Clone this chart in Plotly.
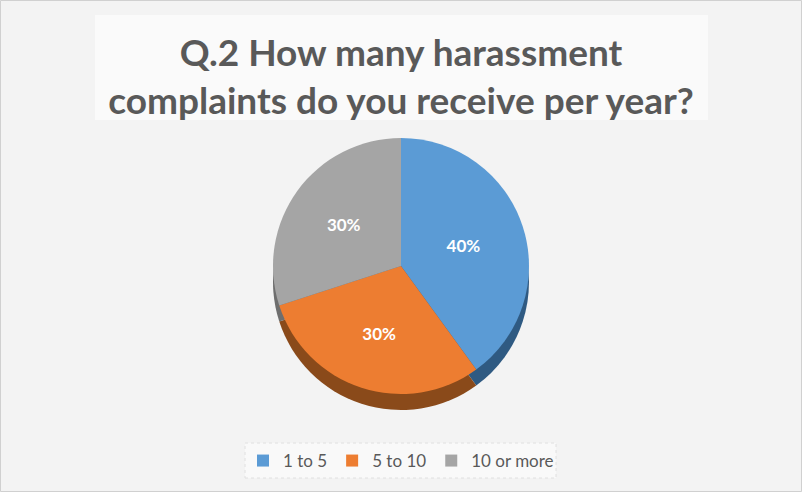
import plotly.graph_objects as go

categories = ["1 to 5", "5 to 10", "10 or more"]
shares = [40, 30, 30]
top_colors = ["#5B9BD5", "#ED7D31", "#A5A5A5"]
side_colors = ["#2F5A82", "#8A4A1A", "#6E6E6E"]

W, H = 802, 492

def ydom(top_px, bottom_px):
    return [(H - bottom_px) / H, (H - top_px) / H]

fig = go.Figure()

# darker "side" of the 3D pie, shifted down
fig.add_trace(go.Pie(
    labels=categories, values=shares, sort=False, direction="clockwise", rotation=0,
    marker=dict(colors=side_colors, line=dict(width=0)),
    textinfo="none", hoverinfo="skip", showlegend=False,
    domain=dict(x=[0.1, 0.9], y=ydom(154, 410)),
))
# top face
fig.add_trace(go.Pie(
    labels=categories, values=shares, sort=False, direction="clockwise", rotation=0,
    marker=dict(colors=top_colors, line=dict(width=0)),
    texttemplate="%{value}%", textposition="inside",
    insidetextfont=dict(family="Lato", size=17, color="white", weight="bold"),
    domain=dict(x=[0.1, 0.9], y=ydom(138, 394)),
))

fig.update_layout(
    width=W, height=H,
    margin=dict(l=0, r=0, t=0, b=0),
    paper_bgcolor="#f3f3f3",
    title=dict(
        text="Q.2 How many harassment<br>complaints do you receive per year?",
        x=0.5, xanchor="center", y=1 - 66 / H, yanchor="middle",
        font=dict(family="Lato", size=37, color="#595959", weight="bold"),
    ),
    legend=dict(
        orientation="h", x=0.5, xanchor="center", y=1 - 461 / H, yanchor="middle",
        font=dict(family="Lato", size=17, color="#595959"),
        bgcolor="rgba(0,0,0,0)", traceorder="normal",
    ),
    shapes=[
        dict(type="rect", xref="paper", yref="paper", x0=95 / W, x1=708 / W,
             y0=1 - 120 / H, y1=1 - 15 / H, fillcolor="#fafafa", line=dict(width=0), layer="below"),
        dict(type="rect", xref="paper", yref="paper", x0=245 / W, x1=556 / W,
             y0=1 - 478 / H, y1=1 - 443 / H, fillcolor="#f9f9f9",
             line=dict(width=1, color="#e0e0e0", dash="dot"), layer="below"),
        dict(type="rect", xref="paper", yref="paper", x0=0.5 / W, x1=1 - 0.5 / W,
             y0=0.5 / H, y1=1 - 0.5 / H, line=dict(width=1, color="#d0d0d0"), layer="below"),
    ],
)

fig.write_html("out.html")
